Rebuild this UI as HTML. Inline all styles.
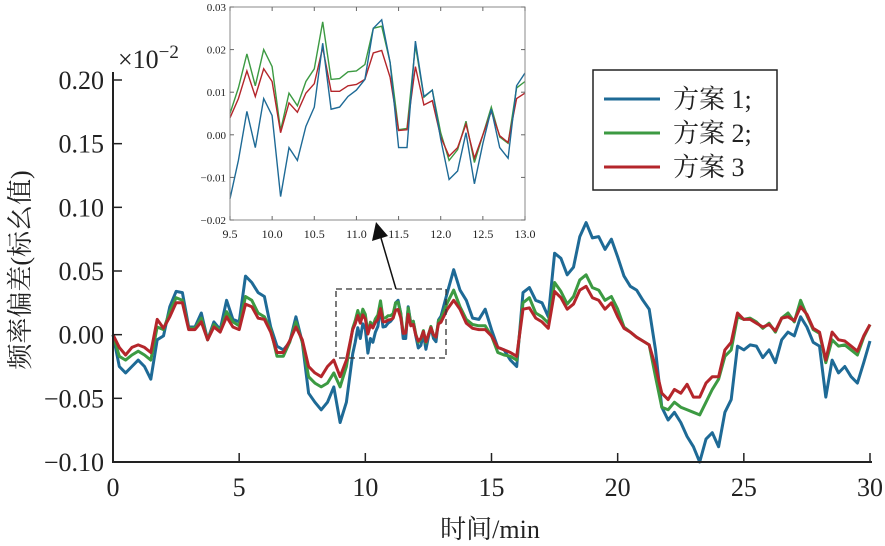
<!DOCTYPE html>
<html><head><meta charset="utf-8">
<style>
html,body{margin:0;padding:0;background:#fff;}
svg{display:block;}
text{font-family:"Liberation Serif","Noto Serif CJK SC",serif;fill:#222;}
</style></head>
<body>
<svg id="chart" width="885" height="546" xmlns="http://www.w3.org/2000/svg">
<g id="main"></g>
<g id="inset"></g>
</svg>
<script>
const times = [0,0.25,0.5,0.75,1,1.25,1.5,1.75,2,2.25,2.5,2.75,3,3.25,3.5,3.75,4,4.25,4.5,4.75,5,5.25,5.5,5.75,6,6.25,6.5,6.75,7,7.25,7.5,7.75,8,8.25,8.5,8.75,9,9.25,
9.5,9.6,9.7,9.8,9.9,10.0,10.1,10.2,10.3,10.4,10.5,10.6,10.7,10.8,10.9,11.0,11.1,11.2,11.3,11.4,11.5,11.6,11.7,11.8,11.9,12.0,12.1,12.2,12.3,12.4,12.5,12.6,12.7,12.8,12.9,13.0,
13.25,13.5,13.75,14,14.25,14.5,14.75,15,15.25,15.5,15.75,16,16.25,16.5,16.75,17,17.25,17.5,17.75,18,18.25,18.5,18.75,19,19.25,19.5,19.75,20,20.25,20.5,20.75,21,21.25,21.5,21.75,22,22.25,22.5,22.75,23,23.25,23.5,23.75,24,24.25,24.5,24.75,25,25.25,25.5,25.75,26,26.25,26.5,26.75,27,27.25,27.5,27.75,28,28.25,28.5,28.75,29,29.25,29.5,29.75,30];
const scheme1 = [0,-0.025,-0.030,-0.025,-0.020,-0.025,-0.035,-0.004,-0.001,0.022,0.034,0.033,0.006,0.006,0.017,-0.004,0.010,0.004,0.027,0.012,0.010,0.046,0.041,0.033,0.030,0.006,-0.009,-0.012,-0.006,0.014,-0.006,-0.046,-0.053,-0.059,-0.053,-0.041,-0.069,-0.053,
-0.015,-0.006,0.0055,-0.003,0.0085,0.0045,-0.0145,-0.003,-0.006,0.002,0.0065,0.0215,0.006,0.0065,0.009,0.0105,0.013,0.025,0.027,0.017,-0.003,-0.003,0.022,0.009,0.0105,-0.001,-0.0105,-0.0085,0.0005,-0.0115,-0.002,0.006,-0.003,-0.0055,0.0115,0.0145,
0.033,0.051,0.035,0.027,0.013,0.012,0.020,0.004,-0.010,-0.012,-0.020,-0.025,0.033,0.037,0.027,0.025,0.014,0.064,0.060,0.047,0.053,0.077,0.088,0.076,0.077,0.067,0.075,0.061,0.046,0.038,0.035,0.027,0.020,-0.012,-0.057,-0.067,-0.061,-0.069,-0.080,-0.088,-0.100,-0.082,-0.077,-0.088,-0.061,-0.051,-0.009,-0.012,-0.008,-0.009,-0.018,-0.012,-0.022,-0.004,0.002,-0.001,0.014,0.006,-0.006,-0.009,-0.049,-0.020,-0.030,-0.025,-0.033,-0.038,-0.022,-0.005];
const scheme2 = [0,-0.017,-0.020,-0.016,-0.013,-0.016,-0.020,0.006,0.004,0.018,0.029,0.027,0.005,0.005,0.013,-0.004,0.008,0.003,0.018,0.010,0.007,0.030,0.027,0.017,0.014,0.004,-0.017,-0.017,-0.006,0.010,-0.006,-0.033,-0.038,-0.041,-0.038,-0.030,-0.041,-0.025,
0.005,0.011,0.019,0.0115,0.020,0.016,0.001,0.0098,0.0068,0.0125,0.0155,0.0265,0.013,0.0132,0.0148,0.015,0.0165,0.025,0.0255,0.017,0.0012,0.0015,0.021,0.0088,0.0105,0.0005,-0.006,-0.0035,0.0032,-0.0065,0.0,0.0065,-0.0005,-0.002,0.011,0.0125,
0.025,0.035,0.022,0.012,0.008,0.007,0.007,-0.001,-0.014,-0.016,-0.017,-0.020,0.025,0.029,0.017,0.014,0.009,0.041,0.034,0.024,0.030,0.043,0.047,0.037,0.035,0.027,0.030,0.020,0.006,0.002,-0.002,-0.005,-0.008,-0.033,-0.057,-0.059,-0.053,-0.057,-0.059,-0.061,-0.063,-0.053,-0.043,-0.035,-0.017,-0.012,0.014,0.012,0.013,0.010,0.005,0.009,0.002,0.013,0.017,0.010,0.027,0.015,0.004,0.001,-0.022,-0.004,-0.009,-0.008,-0.012,-0.016,-0.002,0.008];
const scheme3 = [0,-0.010,-0.016,-0.010,-0.008,-0.010,-0.014,0.012,0.005,0.014,0.025,0.025,0.004,0.004,0.010,-0.004,0.006,0.002,0.014,0.006,0.004,0.024,0.022,0.013,0.012,0.002,-0.014,-0.014,-0.005,0.006,-0.004,-0.025,-0.030,-0.033,-0.025,-0.020,-0.033,-0.020,
0.004,0.0085,0.015,0.009,0.0155,0.0125,0.0005,0.0075,0.0053,0.0098,0.012,0.0205,0.0102,0.0102,0.0115,0.0118,0.013,0.0192,0.0198,0.0135,0.001,0.0012,0.016,0.007,0.008,-0.0005,-0.005,-0.003,0.0025,-0.0055,0.0,0.0055,-0.0002,-0.0018,0.0085,0.0098,
0.020,0.027,0.020,0.009,0.005,0.004,0.004,-0.001,-0.010,-0.012,-0.014,-0.017,0.020,0.021,0.013,0.010,0.005,0.034,0.029,0.020,0.024,0.035,0.038,0.029,0.027,0.020,0.025,0.014,0.005,0.002,-0.002,-0.005,-0.008,-0.025,-0.046,-0.051,-0.043,-0.046,-0.039,-0.049,-0.049,-0.038,-0.033,-0.033,-0.012,-0.006,0.017,0.012,0.012,0.009,0.006,0.008,0.003,0.013,0.014,0.011,0.022,0.016,0.005,0.002,-0.020,0.002,-0.004,-0.005,-0.009,-0.013,-0.001,0.008];
const seriesNames = ["方案 1;","方案 2;","方案 3"];
const seriesColors = ["#1e6a96","#3c9a42","#b4262b"];
const xTicks = [0,5,10,15,20,25,30];
const yTicks = [-0.10,-0.05,0.00,0.05,0.10,0.15,0.20];
const yTickLabels = ["\u22120.10","\u22120.05","0.00","0.05","0.10","0.15","0.20"];
const insetXTicks = [9.5,10.0,10.5,11.0,11.5,12.0,12.5,13.0];
const insetYTicks = [-0.02,-0.01,0.00,0.01,0.02,0.03];
const insetYTickLabels = ["\u22120.02","\u22120.01","0.00","0.01","0.02","0.03"];
const allSeries = [scheme1,scheme2,scheme3];

const NS="http://www.w3.org/2000/svg";
function mk(parent,tag,attrs,txt){const e=document.createElementNS(NS,tag);for(const k in attrs)e.setAttribute(k,attrs[k]);if(txt!==undefined)e.textContent=txt;parent.appendChild(e);return e;}

// main axes
const M={x0:113,x1:870,y0:462,y1:80,tmin:0,tmax:30,vmin:-0.10,vmax:0.20};
const sx=t=>M.x0+(t-M.tmin)/(M.tmax-M.tmin)*(M.x1-M.x0);
const sy=v=>M.y0-(v-M.vmin)/(M.vmax-M.vmin)*(M.y0-M.y1);
const g=document.getElementById('main');

allSeries.forEach((s,i)=>{
  const d=s.map((v,j)=>(j?'L':'M')+sx(times[j]).toFixed(1)+','+sy(v).toFixed(1)).join('');
  const p=mk(g,'path',{d:d,fill:'none',stroke:seriesColors[i],'stroke-width':3,'stroke-linejoin':'round'});
  
  
});

const ax=mk(g,'path',{d:`M${M.x0},${M.y1-8}V${M.y0}H${M.x1+2}`,fill:'none',stroke:'#222','stroke-width':2});


xTicks.forEach(t=>{
  const l=mk(g,'line',{x1:sx(t),x2:sx(t),y1:M.y0,y2:M.y0-9,stroke:'#222','stroke-width':1.5});
  
  
  const tx=mk(g,'text',{x:sx(t),y:M.y0+34,'text-anchor':'middle','font-size':26},String(t));
  
  
});
yTicks.forEach((v,i)=>{
  const l=mk(g,'line',{x1:M.x0,x2:M.x0+9,y1:sy(v),y2:sy(v),stroke:'#222','stroke-width':1.5});
  
  
  const tx=mk(g,'text',{x:104,y:sy(v)+9,'text-anchor':'end','font-size':26},yTickLabels[i]);
  
  
});
const xl=mk(g,'text',{x:490,y:538,'text-anchor':'middle','font-size':26},'时间/min');


const yl=mk(g,'text',{x:0,y:0,'text-anchor':'middle','font-size':26,transform:'translate(29,270) rotate(-90)'},'频率偏差(标幺值)');


const sc=mk(g,'text',{x:118,y:68,'font-size':26},'×10');


mk(sc,'tspan',{dy:-10,'font-size':19},'−2');

// legend
const lg=mk(g,'g',{});


mk(lg,'rect',{x:593,y:70,width:184,height:120,fill:'#fff',stroke:'#222','stroke-width':1.5});
seriesNames.forEach((n,i)=>{
  const e=mk(lg,'g',{});
  
  
  const y=99+i*34;
  mk(e,'line',{x1:604,x2:660,y1:y,y2:y,stroke:seriesColors[i],'stroke-width':3});
  mk(e,'text',{x:673,y:y+9,'font-size':26},n);
});

// dashed zoom box
const I={t0:9.5,t1:13.0,v0:-0.02,v1:0.03};
const zb=mk(g,'rect',{x:336,y:289,width:110,height:69,fill:'none',stroke:'#333','stroke-width':1.3,'stroke-dasharray':'6,4'});


const ar=mk(g,'g',{});


mk(ar,'line',{x1:396,y1:289,x2:381,y2:238,stroke:'#111','stroke-width':1.5});
mk(ar,'polygon',{points:'376,222 372,241 388,236',fill:'#111'});

// inset
const N={x0:230,x1:525,y0:220,y1:7};
const ix=t=>N.x0+(t-I.t0)/(I.t1-I.t0)*(N.x1-N.x0);
const iy=v=>N.y0-(v-I.v0)/(I.v1-I.v0)*(N.y0-N.y1);
const gi=document.getElementById('inset');


mk(gi,'rect',{x:N.x0,y:N.y1,width:N.x1-N.x0,height:N.y0-N.y1,fill:'#fff'});
[1,2,0].forEach(i=>{
  const s=allSeries[i];
  let pts=[];
  times.forEach((t,j)=>{if(t>=I.t0-1e-9&&t<=I.t1+1e-9)pts.push(ix(t).toFixed(1)+','+iy(s[j]).toFixed(1));});
  const p=mk(gi,'polyline',{points:pts.join(' '),fill:'none',stroke:seriesColors[i],'stroke-width':1.4});
  
  
});
const ib=mk(gi,'rect',{x:N.x0,y:N.y1,width:N.x1-N.x0,height:N.y0-N.y1,fill:'none',stroke:'#888','stroke-width':1});


insetXTicks.forEach(t=>{
  mk(gi,'line',{x1:ix(t),x2:ix(t),y1:N.y0,y2:N.y0-4,stroke:'#666'});
  mk(gi,'line',{x1:ix(t),x2:ix(t),y1:N.y1,y2:N.y1+4,stroke:'#666'});
  const tx=mk(gi,'text',{x:ix(t),y:N.y0+18,'text-anchor':'middle','font-size':12},t.toFixed(1));
  
  
});
insetYTicks.forEach((v,i)=>{
  mk(gi,'line',{x1:N.x0,x2:N.x0+4,y1:iy(v),y2:iy(v),stroke:'#666'});
  mk(gi,'line',{x1:N.x1,x2:N.x1-4,y1:iy(v),y2:iy(v),stroke:'#666'});
  const tx=mk(gi,'text',{x:N.x0-4,y:iy(v)+4,'text-anchor':'end','font-size':11},insetYTickLabels[i]);
  
  
});
</script>
</body></html>
